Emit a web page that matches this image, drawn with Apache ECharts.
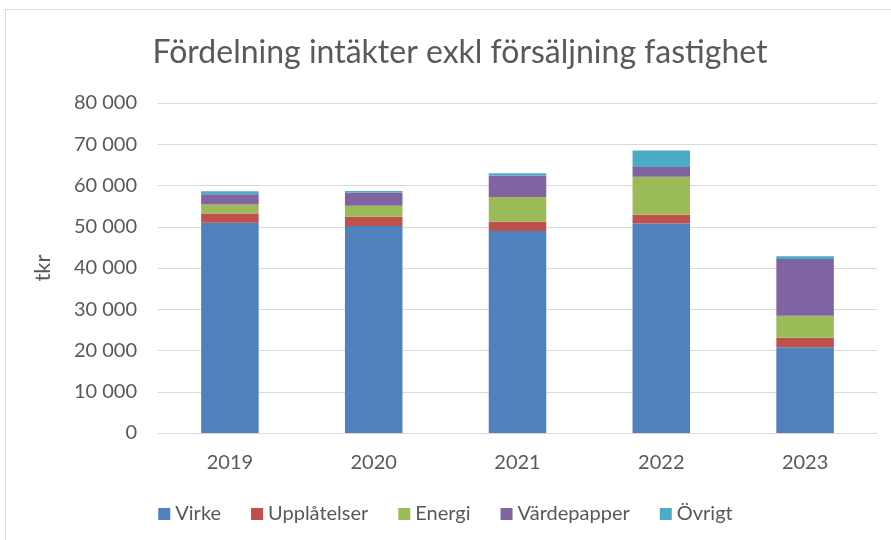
<!DOCTYPE html>
<html lang="sv">
<head>
<meta charset="utf-8">
<title>Fördelning intäkter</title>
<script src="https://cdn.jsdelivr.net/npm/echarts@6/dist/echarts.min.js"></script>
<style>
  html, body { margin: 0; padding: 0; background: #fff; }
  #chart { width: 891px; height: 540px; }
</style>
</head>
<body>
<div id="chart"></div>
<script>
var years = ['2019', '2020', '2021', '2022', '2023'];
var virke = [51000, 50200, 49000, 50800, 20800];
var upplatelser = [2200, 2200, 2200, 2100, 2300];
var energi = [2200, 2700, 6000, 9200, 5300];
var vardepapper = [2500, 3200, 5200, 2400, 13800];
var ovrigt = [700, 350, 600, 4000, 650];

var names = ['Virke', 'Upplåtelser', 'Energi', 'Värdepapper', 'Övrigt'];
var colors = ['#4F81BD', '#C0504D', '#9BBB59', '#8064A2', '#4BACC6'];
var values = [virke, upplatelser, energi, vardepapper, ovrigt];

var font = 'Lato, "Open Sans", sans-serif';
var series = [];
for (var i = 0; i < names.length; i++) {
  series.push({
    name: names[i],
    type: 'bar',
    stack: 'total',
    barWidth: '40%',
    itemStyle: { color: colors[i] },
    data: values[i]
  });
}

var myChart = echarts.init(document.getElementById('chart'));
var option = {
  animation: false,
  color: colors,
  title: {
    text: 'Fördelning intäkter exkl försäljning fastighet',
    left: 455,
    top: 32,
    textAlign: 'center',
    textStyle: { fontFamily: font, fontSize: 32, fontWeight: 'normal', color: '#595959' }
  },
  graphic: [{
    type: 'rect',
    shape: { x: 5.5, y: 9.5, width: 1000, height: 1000 },
    style: { fill: 'none', stroke: '#d9d9d9', lineWidth: 1 },
    silent: true
  }],
  legend: {
    bottom: 11,
    left: 'center',
    itemWidth: 12,
    itemHeight: 12,
    itemGap: 30,
    icon: 'rect',
    textStyle: { fontFamily: font, fontSize: 20, color: '#595959' }
  },
  grid: { left: 158, right: 14, top: 103, bottom: 107 },
  xAxis: {
    type: 'category',
    data: years,
    axisLine: { lineStyle: { color: '#d9d9d9' } },
    axisTick: { show: false },
    axisLabel: { fontFamily: font, fontSize: 20, color: '#595959', margin: 20 }
  },
  yAxis: {
    type: 'value',
    min: 0,
    max: 80000,
    interval: 10000,
    name: 'tkr',
    nameLocation: 'middle',
    nameGap: 104,
    nameRotate: 90,
    nameTextStyle: { fontFamily: font, fontSize: 22, color: '#595959' },
    axisLine: { show: false },
    axisTick: { show: false },
    splitLine: { lineStyle: { color: '#d9d9d9' } },
    axisLabel: {
      fontFamily: font, fontSize: 20, color: '#595959', margin: 21,
      formatter: function (v) {
        return String(v).replace(/\B(?=(\d{3})+(?!\d))/g, ' ');
      }
    }
  },
  series: series
};
myChart.setOption(option);
</script>
</body>
</html>
